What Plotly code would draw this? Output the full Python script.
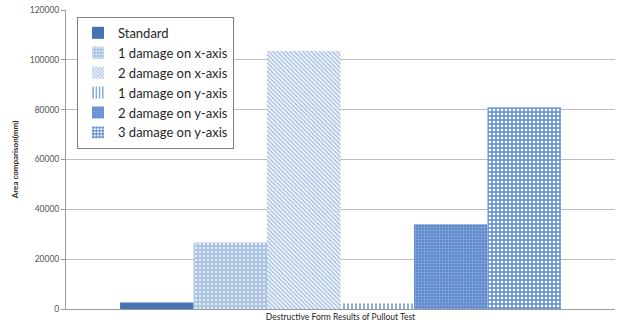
import plotly.graph_objects as go

category = ["Destructive Form Results of Pullout Test"]
series_names = [
    "Standard",
    "1 damage on x-axis",
    "2 damage on x-axis",
    "1 damage on y-axis",
    "2 damage on y-axis",
    "3 damage on y-axis",
]
series_values = [2600, 26700, 103500, 2200, 34000, 81000]
y_ticks = [0, 20000, 40000, 60000, 80000, 100000, 120000]

# fill style per series: (background, foreground, pattern shape, size, solidity)
styles = [
    ("#4674B1", "#4674B1", "", 8, 0.3),
    ("#A9C2E2", "#E4ECF7", ".", 4, 0.3),
    ("#FFFFFF", "#A9C2E2", "\\", 3, 0.55),
    ("#FFFFFF", "#7FA3D6", "|", 4, 0.45),
    ("#5E8ACB", "#8FB0E0", "+", 3, 0.3),
    ("#FFFFFF", "#5B8BD0", "+", 4, 0.6),
]

fig = go.Figure()
for name, val, (bg, fg, shape, size, sol) in zip(series_names, series_values, styles):
    fig.add_trace(go.Bar(
        x=category,
        y=[val],
        name=name,
        marker=dict(
            color=bg,
            line=dict(width=0),
            pattern=dict(shape=shape, fgcolor=fg, bgcolor=bg, size=size,
                         solidity=sol, fillmode="replace"),
        ),
    ))

fig.update_layout(
    width=618,
    height=332,
    margin=dict(l=66, r=3, t=10, b=23),
    paper_bgcolor="white",
    plot_bgcolor="white",
    barmode="group",
    bargap=0.197,
    bargroupgap=0,
    font=dict(family="Lato, Liberation Sans, sans-serif", color="#404040"),
    showlegend=True,
    legend=dict(
        x=0.02, y=0.977, xanchor="left", yanchor="top",
        bgcolor="white", bordercolor="#7F7F7F", borderwidth=1,
        font=dict(size=13, color="#262626"),
        tracegroupgap=0, itemwidth=30,
    ),
    xaxis=dict(
        showgrid=False,
        showline=True, linecolor="#9A9A9A", linewidth=1,
        ticks="", tickfont=dict(size=8.5, color="#262626"),
        fixedrange=True,
    ),
    yaxis=dict(
        range=[0, 120000],
        tickvals=y_ticks,
        ticktext=[str(v) for v in y_ticks],
        showgrid=True, gridcolor="#BDBDBD", gridwidth=1,
        showline=True, linecolor="#9A9A9A", linewidth=1,
        ticks="outside", ticklen=4, tickcolor="#9A9A9A",
        tickfont=dict(size=8.5, color="#555555"),
        zeroline=False,
        title=dict(text="<b>Area comparison(mm)</b>", font=dict(size=8, color="#262626"),
                   standoff=9),
    ),
)

fig.write_html("out.html")
